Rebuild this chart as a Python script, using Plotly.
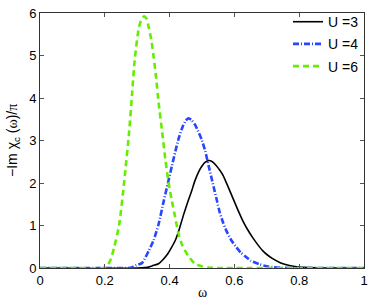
import plotly.graph_objects as go

# U = 3 (black, solid)
omega_u3 = [0, 0.3, 0.336, 0.346, 0.366, 0.38, 0.395, 0.405, 0.417, 0.43, 0.443, 0.455,
            0.468, 0.478, 0.49, 0.5, 0.51, 0.521, 0.532, 0.545, 0.555, 0.565, 0.58,
            0.595, 0.61, 0.626, 0.641, 0.656, 0.672, 0.687, 0.703, 0.718, 0.743, 0.77,
            0.804, 0.85, 0.9, 1.0]
chi_u3 = [0, 0, 0.02, 0.05, 0.10, 0.2, 0.34, 0.47, 0.64, 0.92, 1.25, 1.53,
          1.81, 2.05, 2.27, 2.4, 2.49, 2.53, 2.5, 2.4, 2.3, 2.18, 1.92,
          1.65, 1.38, 1.11, 0.9, 0.72, 0.55, 0.41, 0.3, 0.22, 0.12, 0.06,
          0.02, 0.005, 0, 0]

# U = 4 (blue, dash-dot)
omega_u4 = [0, 0.2, 0.27, 0.285, 0.295, 0.315, 0.336, 0.351, 0.366, 0.382, 0.395, 0.407,
            0.418, 0.428, 0.44, 0.45, 0.458, 0.468, 0.48, 0.499, 0.51, 0.52, 0.53,
            0.539, 0.547, 0.555, 0.565, 0.575, 0.59, 0.606, 0.62, 0.636, 0.651,
            0.677, 0.7, 0.718, 0.75, 0.8, 1.0]
chi_u4 = [0, 0, 0, 0.02, 0.06, 0.12, 0.41, 0.66, 1.03, 1.58, 2.0, 2.4,
          2.75, 3.05, 3.32, 3.47, 3.52, 3.48, 3.35, 3.02, 2.75, 2.42, 2.1,
          1.81, 1.56, 1.3, 1.07, 0.88, 0.66, 0.49, 0.36, 0.26, 0.17,
          0.09, 0.04, 0.02, 0.005, 0, 0]

# U = 6 (green, dashed)
omega_u6 = [0, 0.1, 0.195, 0.209, 0.219, 0.229, 0.244, 0.26, 0.275, 0.285, 0.293, 0.305,
            0.313, 0.321, 0.329, 0.336, 0.344, 0.351, 0.358, 0.366, 0.377, 0.387,
            0.397, 0.407, 0.417, 0.427, 0.44, 0.458, 0.478, 0.499, 0.52, 0.55, 1.0]
chi_u6 = [0, 0, 0, 0.06, 0.22, 0.49, 1.0, 2.04, 3.2, 4.18, 4.95, 5.65,
          5.85, 5.92, 5.86, 5.65, 5.35, 4.95, 4.5, 3.9, 3.2, 2.55,
          2.0, 1.58, 1.2, 0.82, 0.52, 0.28, 0.10, 0.04, 0.01, 0, 0]

x_ticks = [0, 0.2, 0.4, 0.6, 0.8, 1]
x_tick_labels = ["0", "0.2", "0.4", "0.6", "0.8", "1"]
y_ticks = [0, 1, 2, 3, 4, 5, 6]

SERIF = "Liberation Serif, Times New Roman, serif"
SANS = "Liberation Sans, Arial, sans-serif"

fig = go.Figure()
fig.add_trace(go.Scatter(x=omega_u3, y=chi_u3, mode="lines", name="U =3", legendgroup="a",
                         line=dict(color="black", width=1.6, shape="spline", smoothing=0.6)))
fig.add_trace(go.Scatter(x=omega_u4, y=chi_u4, mode="lines", name="U =4", legendgroup="b",
                         line=dict(color="#2846ff", width=2.6, dash="6px,2px,1px,2px",
                                   shape="spline", smoothing=0.6)))
fig.add_trace(go.Scatter(x=omega_u6, y=chi_u6, mode="lines", name="U =6", legendgroup="c",
                         line=dict(color="#66ee00", width=2.6, dash="6px,4px",
                                   shape="spline", smoothing=0.6)))

axis_common = dict(showline=True, linecolor="#333333", linewidth=1, mirror="ticks",
                   ticks="inside", ticklen=4, tickcolor="#555555", showgrid=False,
                   zeroline=False, tickfont=dict(family=SANS, size=13, color="black"))

fig.update_xaxes(range=[0, 1], tickvals=x_ticks, ticktext=x_tick_labels, **axis_common)
fig.update_yaxes(range=[0, 6], tickvals=y_ticks, **axis_common)

fig.add_annotation(text=f"<span style='font-family:{SERIF}'>ω</span>",
                   xref="paper", yref="paper", x=0.5, y=-0.098, yanchor="middle",
                   showarrow=False, font=dict(size=14, color="black"))
fig.add_annotation(text=f"−Im χ<sub>c</sub> (<span style='font-family:{SERIF}'>ω</span>)/<span style='font-family:{SERIF}'>π</span>",
                   xref="paper", yref="paper", x=-0.085, y=0.5, xanchor="center", yanchor="middle",
                   textangle=-90, showarrow=False,
                   font=dict(family=SANS, size=14, color="black"))

fig.update_layout(
    width=374, height=304,
    margin=dict(l=40, r=6, t=10, b=36),
    paper_bgcolor="white", plot_bgcolor="white",
    font=dict(family=SANS, size=12, color="black"),
    legend=dict(x=1.0, y=1.027, xanchor="right", yanchor="top",
                bgcolor="rgba(0,0,0,0)", font=dict(size=14),
                itemwidth=30, tracegroupgap=1),
    showlegend=True,
)

fig.write_html("out.html", config={"displayModeBar": False},
               post_script="document.body.style.margin='0';")
